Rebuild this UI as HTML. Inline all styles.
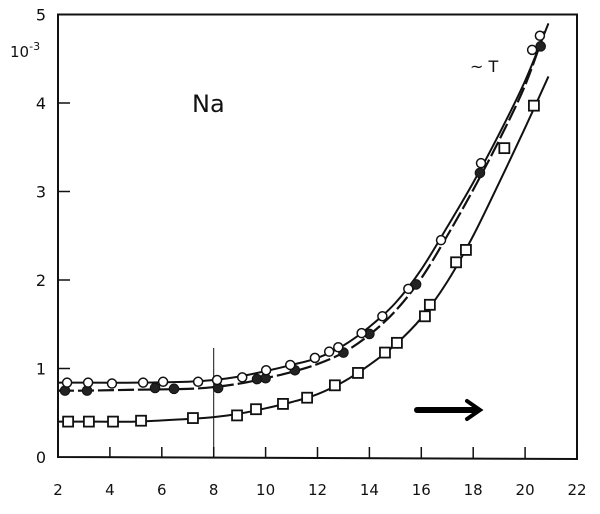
<!DOCTYPE html>
<html><head><meta charset="utf-8"><style>
body{margin:0;background:#fff;width:600px;height:509px;overflow:hidden}
text{font-family:"DejaVu Sans","Liberation Sans",sans-serif;fill:#111}
</style></head><body>
<svg id="chart" width="600" height="509" viewBox="0 0 600 509" xmlns="http://www.w3.org/2000/svg">
<g id="axes"></g>
<g id="series"></g>
<text x="192" y="112" font-size="24">Na</text>
<text x="470" y="72" font-size="16">~ T</text>
<text x="10" y="57" font-size="15">10<tspan dy="-7" font-size="11">-3</tspan></text>
<line x1="417" y1="410" x2="475" y2="410" stroke="#000" stroke-width="6" stroke-linecap="round"/>
<path d="M467,401 L480,410 L467,419" fill="none" stroke="#000" stroke-width="4" stroke-linecap="round"/>
</svg>
<script>
const xTicks=[2,4,6,8,10,12,14,16,18,20,22];
const yTicks=[0,1,2,3,4,5];
const openX=[2.35,3.16,4.08,5.28,6.05,7.4,8.13,9.1,10.02,10.95,11.9,12.45,12.8,13.7,14.5,15.5,16.76,18.3,20.27,20.57];
const openY=[0.84,0.84,0.83,0.84,0.85,0.85,0.87,0.90,0.98,1.04,1.12,1.19,1.24,1.40,1.59,1.90,2.45,3.32,4.6,4.76];
const filledX=[2.27,3.12,5.74,6.47,8.17,9.67,10.0,11.13,13.0,14.0,15.8,18.26,20.6];
const filledY=[0.75,0.75,0.78,0.77,0.78,0.88,0.89,0.98,1.18,1.39,1.95,3.21,4.64];
const squareX=[2.39,3.19,4.12,5.2,7.2,8.9,9.63,10.67,11.6,12.67,13.56,14.6,15.06,16.14,16.33,17.34,17.72,19.2,20.34];
const squareY=[0.40,0.40,0.40,0.41,0.44,0.47,0.54,0.60,0.67,0.81,0.95,1.18,1.29,1.59,1.72,2.20,2.34,3.49,3.97];
const openCurveX=[2.0,3,5,7,8,9,10,11,12,13,14,15,16,17,18,19,20,20.9];
const openCurveY=[0.84,0.84,0.84,0.85,0.87,0.91,0.97,1.04,1.12,1.26,1.47,1.74,2.12,2.6,3.1,3.65,4.25,4.9];
const filledCurveX=[2.0,3,5,7,8,9,10,11,12,13,14,15,16,17,18,19,20,20.8];
const filledCurveY=[0.75,0.75,0.76,0.77,0.79,0.83,0.89,0.96,1.05,1.18,1.38,1.65,2.02,2.5,3.02,3.58,4.2,4.85];
const squareCurveX=[2.0,3,5,7,8,9,10,11,12,13,14,15,16,17,18,19,20,20.9];
const squareCurveY=[0.40,0.40,0.40,0.43,0.45,0.49,0.55,0.62,0.71,0.85,1.04,1.27,1.57,1.98,2.5,3.1,3.72,4.3];
const X=v=>58+(v-2)*25.95, Y=v=>457-v*88.5;
const NS="http://www.w3.org/2000/svg";
const ax=document.getElementById('axes'), sr=document.getElementById('series');
function mk(t,a,p){const e=document.createElementNS(NS,t);for(const k in a)e.setAttribute(k,a[k]);p.appendChild(e);return e;}
let fr=mk('path',{d:`M${X(2)},${Y(5)} L577,${Y(5)} L577,459 L58,457 Z`,fill:'none',stroke:'#111','stroke-width':2},ax);


xTicks.forEach(t=>{
 const l=mk('line',{x1:X(t),x2:X(t),y1:447,y2:458,stroke:'#111','stroke-width':1.5},ax);
 
 
 const tx=mk('text',{x:X(t),y:495,'font-size':15,'text-anchor':'middle'},ax);tx.textContent=t;
 
 
});
yTicks.forEach(t=>{
 if(t>0&&t<5){const l=mk('line',{x1:58,x2:70,y1:Y(t),y2:Y(t),stroke:'#111','stroke-width':1.5},ax);
 
 }
 const tx=mk('text',{x:41,y:Y(t)+6,'font-size':16,'text-anchor':'middle'},ax);tx.textContent=t;
 
 
});
let vl=mk('line',{x1:X(8),x2:X(8),y1:348,y2:458,stroke:'#111','stroke-width':1},ax);


function smooth(xs,ys){const p=xs.map((x,i)=>[X(x),Y(ys[i])]);let d=`M${p[0][0]},${p[0][1]}`;
 for(let i=0;i<p.length-1;i++){const p0=p[i-1]||p[i],p1=p[i],p2=p[i+1],p3=p[i+2]||p2;
 d+=` C${p1[0]+(p2[0]-p0[0])/6},${p1[1]+(p2[1]-p0[1])/6} ${p2[0]-(p3[0]-p1[0])/6},${p2[1]-(p3[1]-p1[1])/6} ${p2[0]},${p2[1]}`;}return d;}
let c1=mk('path',{d:smooth(openCurveX,openCurveY),fill:'none',stroke:'#111','stroke-width':2},sr);


let c2=mk('path',{d:smooth(filledCurveX,filledCurveY),fill:'none',stroke:'#111','stroke-width':2.2,'stroke-dasharray':'16,4'},sr);


let c3=mk('path',{d:smooth(squareCurveX,squareCurveY),fill:'none',stroke:'#111','stroke-width':2},sr);


filledX.forEach((x,i)=>{const c=mk('circle',{cx:X(x),cy:Y(filledY[i]),r:4.8,fill:'#222',stroke:'#111','stroke-width':1},sr);
 
 });
openX.forEach((x,i)=>{const c=mk('circle',{cx:X(x),cy:Y(openY[i]),r:4.5,fill:'#fff',stroke:'#111','stroke-width':1.5},sr);
 
 });
squareX.forEach((x,i)=>{const c=mk('rect',{x:X(x)-5,y:Y(squareY[i])-5,width:10,height:10,fill:'#fff',stroke:'#111','stroke-width':1.8},sr);
 
 });
</script>
</body></html>
